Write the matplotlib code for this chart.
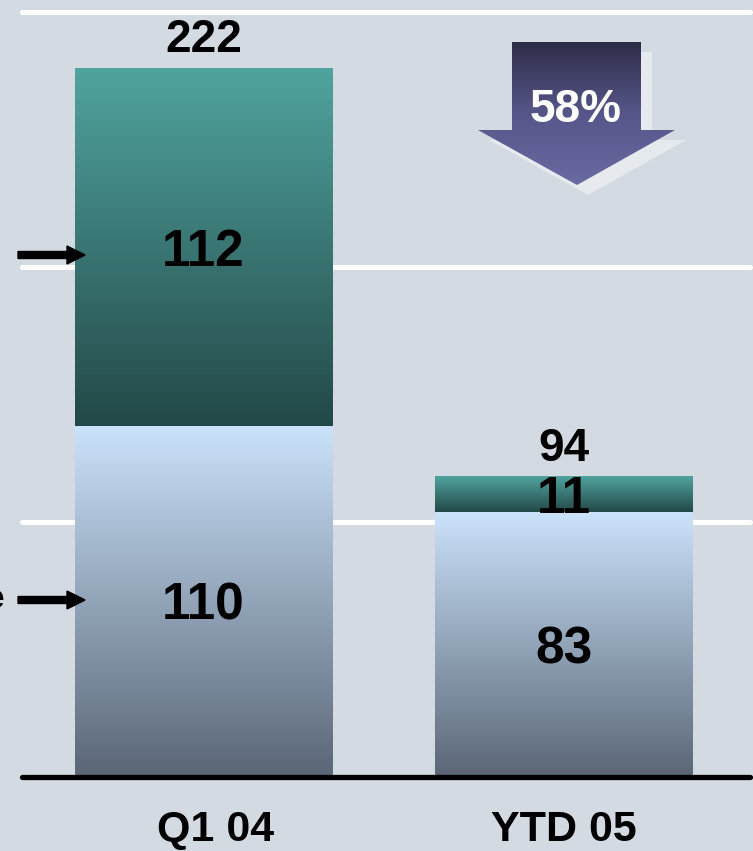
import numpy as np
import matplotlib
matplotlib.use("Agg")
import matplotlib.pyplot as plt
from matplotlib.colors import LinearSegmentedColormap
from matplotlib.patches import Polygon, FancyArrow

# ---- data ----
categories = ["Q1 04", "YTD 05"]
base_values = [110, 83]
top_values = [112, 11]
totals = [222, 94]
change_label = "58%"
gridline_values = [80, 160, 240]

plt.rcParams["font.family"] = ["Liberation Sans", "DejaVu Sans"]

W, H, DPI = 753, 851, 100
BG = "#d3dae2"
fig = plt.figure(figsize=(W / DPI, H / DPI), dpi=DPI)
fig.patch.set_facecolor(BG)


def px_box(l, t, r, b):
    return [l / W, 1 - b / H, (r - l) / W, (b - t) / H]


def px2pt(v):
    return v * 72.0 / DPI


ax = fig.add_axes(px_box(22, 11.5, 750, 777))
ax.set_facecolor(BG)
XLIM = (-0.5035, 1.516)
YLIM = (0, 240)
for s in ax.spines.values():
    s.set_visible(False)
ax.set_yticks([])
ax.tick_params(length=0)

# white horizontal gridlines
for g in gridline_values:
    ax.plot(XLIM, [g, g], color="white", lw=3.6, solid_capstyle="round",
            clip_on=False, zorder=0)

x = np.arange(len(categories))
width = 0.713
bars_base = ax.bar(x, base_values, width, color="none", zorder=2)
bars_top = ax.bar(x, top_values, width, bottom=base_values, color="none", zorder=2)


def fill_gradient(patch, c_top, c_bot):
    x0, y0 = patch.get_x(), patch.get_y()
    w, h = patch.get_width(), patch.get_height()
    cmap = LinearSegmentedColormap.from_list("seg", [c_bot, c_top])
    grad = np.linspace(0, 1, 256).reshape(-1, 1)
    ax.imshow(grad, extent=[x0, x0 + w, y0, y0 + h], origin="lower",
              cmap=cmap, aspect="auto", zorder=2, interpolation="bilinear")


for p in bars_base:
    fill_gradient(p, "#cae2fa", "#5a6676")
for p in bars_top:
    fill_gradient(p, "#50a49e", "#234848")

ax.set_xlim(*XLIM)
ax.set_ylim(*YLIM)

# baseline
ax.plot(XLIM, [0, 0], color="black", lw=3.8, solid_capstyle="round",
        clip_on=False, zorder=5)

# value labels
seg_fs = 37
tot_fs = 33
for i in range(len(categories)):
    for val, bottom in ((base_values[i], 0), (top_values[i], base_values[i])):
        ax.annotate(str(val), (x[i], bottom + val / 2), xytext=(0, -0.358 * seg_fs),
                    textcoords="offset points", ha="center", va="baseline",
                    fontsize=seg_fs, fontweight="bold", color="black", zorder=6)
    ax.annotate(str(totals[i]), (x[i], totals[i]),
                xytext=(0, px2pt(33) - 0.358 * tot_fs),
                textcoords="offset points", ha="center", va="baseline",
                fontsize=tot_fs, fontweight="bold", color="black", zorder=6)

# category labels
ax.set_xticks([])
cat_dx = [12, 0]
for i, cat in enumerate(categories):
    ax.annotate(cat, (x[i], 0), xytext=(px2pt(cat_dx[i]), -px2pt(64)),
                textcoords="offset points", ha="center", va="baseline",
                fontsize=31, fontweight="bold", color="black",
                annotation_clip=False)

# ---- overlay in pixel coordinates for the callouts ----
ov = fig.add_axes([0, 0, 1, 1])
ov.set_xlim(0, W)
ov.set_ylim(H, 0)
ov.axis("off")
ov.patch.set_alpha(0)

arrow_pts = np.array([(512, 42), (641, 42), (641, 130), (675, 130),
                      (577, 185), (478, 130), (512, 130)], dtype=float)
shadow = Polygon(arrow_pts + np.array([11, 10]), closed=True,
                 facecolor="#e6e9ed", edgecolor="none", zorder=1)
ov.add_patch(shadow)
arrow = Polygon(arrow_pts, closed=True, facecolor="none", edgecolor="none", zorder=2)
ov.add_patch(arrow)
acmap = LinearSegmentedColormap.from_list("arr", ["#2e2d47", "#56568a", "#6a6aa2"])
agrad = np.linspace(0, 1, 256).reshape(-1, 1)
im = ov.imshow(agrad, extent=[478, 675, 185, 42], origin="upper", cmap=acmap,
               aspect="auto", zorder=2, interpolation="bilinear")
im.set_clip_path(arrow)
ov.set_xlim(0, W)
ov.set_ylim(H, 0)
ov.text(576, 110, change_label, ha="center", va="center",
        fontsize=33, fontweight="bold", color="white", zorder=3)

# pointer arrows on the left
for yy in (255, 600):
    ov.add_patch(FancyArrow(18, yy, 67, 0, width=7, head_width=18, head_length=18,
                            length_includes_head=True, color="black", zorder=4))

ov.text(4, 600, "e", ha="right", va="center", fontsize=24, fontweight="bold",
        color="black")

fig.savefig("out.png", dpi=DPI, facecolor=BG)
